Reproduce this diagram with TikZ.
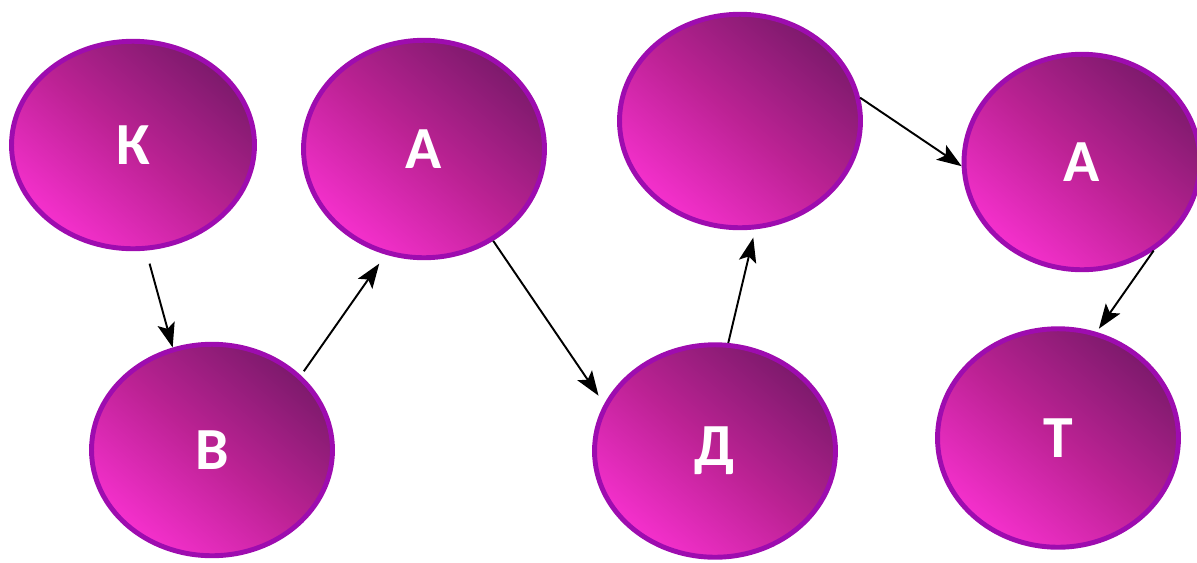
\documentclass[tikz,border=0pt]{standalone}
\usepackage{fontspec}
\setmainfont{Carlito}
\usetikzlibrary{shapes.geometric,arrows.meta}
\definecolor{ballrim}{RGB}{158,12,175}
\definecolor{balldark}{RGB}{125,26,108}
\definecolor{ballmid}{RGB}{188,34,148}
\definecolor{ballpink}{RGB}{245,48,205}
\begin{document}
\begin{tikzpicture}[x=0.02cm, y=-0.02cm,
  ball/.style={ellipse, draw=ballrim, line width=2.8pt, inner sep=0pt,
    top color=balldark, bottom color=ballpink, middle color=ballmid, shading angle=-40,
    text=white, font=\bfseries\fontsize{34}{34}\selectfont},
  link/.style={-{Stealth[length=14pt,width=10pt,inset=3pt]}, line width=1.1pt, black}]
  \useasboundingbox (0,0) rectangle (1197,562);

  % 1. круги
  \node[ball, minimum width=4.86cm, minimum height=4.15cm] (ka) at (133,145) {К};
  \node[ball, minimum width=4.82cm, minimum height=4.23cm] (ve) at (212,450) {В};
  \node[ball, minimum width=4.82cm, minimum height=4.35cm] (a1) at (424,149) {А};
  \node[ball, minimum width=4.82cm, minimum height=4.25cm] (de) at (715,451) {Д};
  \node[ball, minimum width=4.82cm, minimum height=4.27cm] (blank) at (740,121) {};
  \node[ball, minimum width=4.72cm, minimum height=4.31cm] (a2) at (1082,162) {А};
  \node[ball, minimum width=4.82cm, minimum height=4.37cm] (te) at (1058,438) {Т};

  % 2. стрелки
  \draw[link, shorten <=0.27cm] (ka.-83) -- (ve.111);
  \draw[link, shorten <=0.1cm, shorten >=0.22cm] (ve.40) -- (a1.250);
  \draw[link, shorten >=0.2cm] (a1.-53) -- (de.157);
  \draw[link, shorten >=0.17cm] (de.83) -- (blank.-82);
  \draw[link] (blank.11) -- (a2.182);
  \draw[link, shorten >=0.08cm] (a2.-51) -- (te.70);
\end{tikzpicture}
\end{document}
